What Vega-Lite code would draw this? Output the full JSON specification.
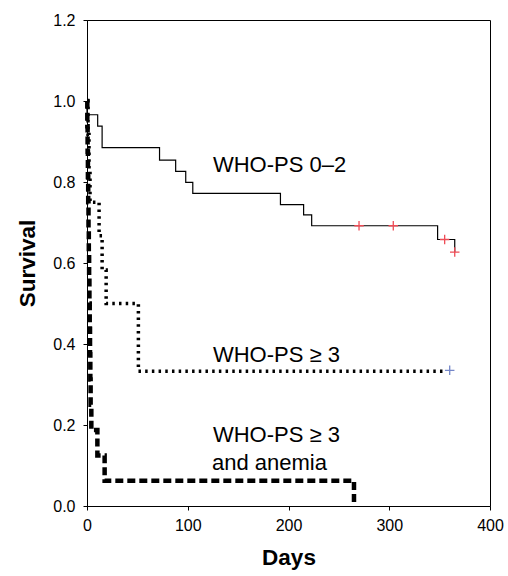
{
  "$schema": "https://vega.github.io/schema/vega-lite/v6.json",
  "width": 403,
  "height": 486,
  "autosize": {"type": "none"},
  "padding": {"left": 87, "top": 20, "right": 18, "bottom": 70},
  "background": "white",
  "config": {
    "font": "Liberation Sans",
    "view": {"stroke": "black", "strokeWidth": 1},
    "axis": {
      "grid": false,
      "domainColor": "black",
      "tickColor": "black",
      "labelColor": "black",
      "titleColor": "black",
      "labelFont": "Liberation Sans",
      "titleFont": "Liberation Sans",
      "labelFontSize": 16,
      "titleFontSize": 22.5,
      "titleFontWeight": "bold",
      "tickSize": 4
    }
  },
  "datasets": {
    "curves": [
      {"group": "ps02", "i": 0, "day": 0, "surv": 1.0},
      {"group": "ps02", "i": 1, "day": 0, "surv": 0.966},
      {"group": "ps02", "i": 2, "day": 10.6, "surv": 0.938},
      {"group": "ps02", "i": 3, "day": 15, "surv": 0.885},
      {"group": "ps02", "i": 4, "day": 72, "surv": 0.854},
      {"group": "ps02", "i": 5, "day": 88, "surv": 0.826},
      {"group": "ps02", "i": 6, "day": 98, "surv": 0.799},
      {"group": "ps02", "i": 7, "day": 105, "surv": 0.772},
      {"group": "ps02", "i": 8, "day": 192, "surv": 0.744},
      {"group": "ps02", "i": 9, "day": 215, "surv": 0.719},
      {"group": "ps02", "i": 10, "day": 223, "surv": 0.692},
      {"group": "ps02", "i": 11, "day": 348, "surv": 0.658},
      {"group": "ps02", "i": 12, "day": 365, "surv": 0.627},
      {"group": "ps3", "i": 0, "day": 0, "surv": 1.0},
      {"group": "ps3", "i": 1, "day": 1, "surv": 0.917},
      {"group": "ps3", "i": 2, "day": 2, "surv": 0.833},
      {"group": "ps3", "i": 3, "day": 3, "surv": 0.75},
      {"group": "ps3", "i": 4, "day": 12, "surv": 0.667},
      {"group": "ps3", "i": 5, "day": 15, "surv": 0.583},
      {"group": "ps3", "i": 6, "day": 19, "surv": 0.5},
      {"group": "ps3", "i": 7, "day": 51, "surv": 0.333},
      {"group": "ps3", "i": 8, "day": 357, "surv": 0.333},
      {"group": "ps3a", "i": 0, "day": 0, "surv": 1.0},
      {"group": "ps3a", "i": 1, "day": 0.3, "surv": 0.9375},
      {"group": "ps3a", "i": 2, "day": 0.6, "surv": 0.875},
      {"group": "ps3a", "i": 3, "day": 0.9, "surv": 0.8125},
      {"group": "ps3a", "i": 4, "day": 1.2, "surv": 0.75},
      {"group": "ps3a", "i": 5, "day": 1.5, "surv": 0.6875},
      {"group": "ps3a", "i": 6, "day": 1.8, "surv": 0.625},
      {"group": "ps3a", "i": 7, "day": 2.1, "surv": 0.5625},
      {"group": "ps3a", "i": 8, "day": 2.4, "surv": 0.5},
      {"group": "ps3a", "i": 9, "day": 2.7, "surv": 0.4375},
      {"group": "ps3a", "i": 10, "day": 3.0, "surv": 0.375},
      {"group": "ps3a", "i": 11, "day": 3.3, "surv": 0.3125},
      {"group": "ps3a", "i": 12, "day": 3.6, "surv": 0.25},
      {"group": "ps3a", "i": 13, "day": 4.3, "surv": 0.1875},
      {"group": "ps3a", "i": 14, "day": 10.3, "surv": 0.125},
      {"group": "ps3a", "i": 15, "day": 17.5, "surv": 0.0625},
      {"group": "ps3a", "i": 16, "day": 265, "surv": 0.0}
    ],
    "censor": [
      {"group": "ps02", "day": 270, "surv": 0.692},
      {"group": "ps02", "day": 304, "surv": 0.692},
      {"group": "ps02", "day": 355, "surv": 0.658},
      {"group": "ps02", "day": 365, "surv": 0.627},
      {"group": "ps3", "day": 360, "surv": 0.335}
    ],
    "labels": [
      {"text": "WHO-PS 0–2", "day": 125, "surv": 0.843},
      {"text": "WHO-PS ≥ 3", "day": 125, "surv": 0.372},
      {"text": "WHO-PS ≥ 3", "day": 125, "surv": 0.176},
      {"text": "and anemia", "day": 124, "surv": 0.107}
    ]
  },
  "encoding": {
    "x": {
      "field": "day",
      "type": "quantitative",
      "scale": {"domain": [0, 400], "nice": false, "zero": false},
      "axis": {"values": [0, 100, 200, 300, 400], "title": "Days", "labelPadding": 7, "titlePadding": 13, "labelFlush": false}
    },
    "y": {
      "field": "surv",
      "type": "quantitative",
      "scale": {"domain": [0, 1.2], "nice": false},
      "axis": {"values": [0, 0.2, 0.4, 0.6, 0.8, 1.0, 1.2], "format": ".1f", "title": "Survival", "labelPadding": 8, "titlePadding": 13, "labelFlush": false}
    }
  },
  "layer": [
    {
      "data": {"name": "curves"},
      "transform": [{"filter": "datum.group === 'ps3a'"}],
      "mark": {"type": "line", "interpolate": "step-after", "color": "black", "strokeWidth": 4.5, "strokeDash": [8, 4], "strokeCap": "butt"},
      "encoding": {"order": {"field": "i", "type": "quantitative"}}
    },
    {
      "data": {"name": "curves"},
      "transform": [{"filter": "datum.group === 'ps3'"}],
      "mark": {"type": "line", "interpolate": "step-after", "color": "black", "strokeWidth": 3.5, "strokeDash": [2.5, 4.2], "strokeCap": "butt"},
      "encoding": {"order": {"field": "i", "type": "quantitative"}}
    },
    {
      "data": {"name": "curves"},
      "transform": [{"filter": "datum.group === 'ps02'"}],
      "mark": {"type": "line", "interpolate": "step-after", "color": "black", "strokeWidth": 1.2},
      "encoding": {"order": {"field": "i", "type": "quantitative"}}
    },
    {
      "data": {"name": "censor"},
      "mark": {"type": "point", "shape": "M-1,0L1,0M0,-1L0,1", "size": 90, "filled": false, "strokeWidth": 1.3, "opacity": 1},
      "encoding": {
        "color": {
          "field": "group",
          "type": "nominal",
          "scale": {"domain": ["ps02", "ps3"], "range": ["#ee4c56", "#7486c8"]},
          "legend": null
        }
      }
    },
    {
      "data": {"name": "labels"},
      "mark": {"type": "text", "align": "left", "baseline": "middle", "fontSize": 22, "font": "Liberation Sans", "color": "black"},
      "encoding": {"text": {"field": "text"}}
    }
  ]
}
